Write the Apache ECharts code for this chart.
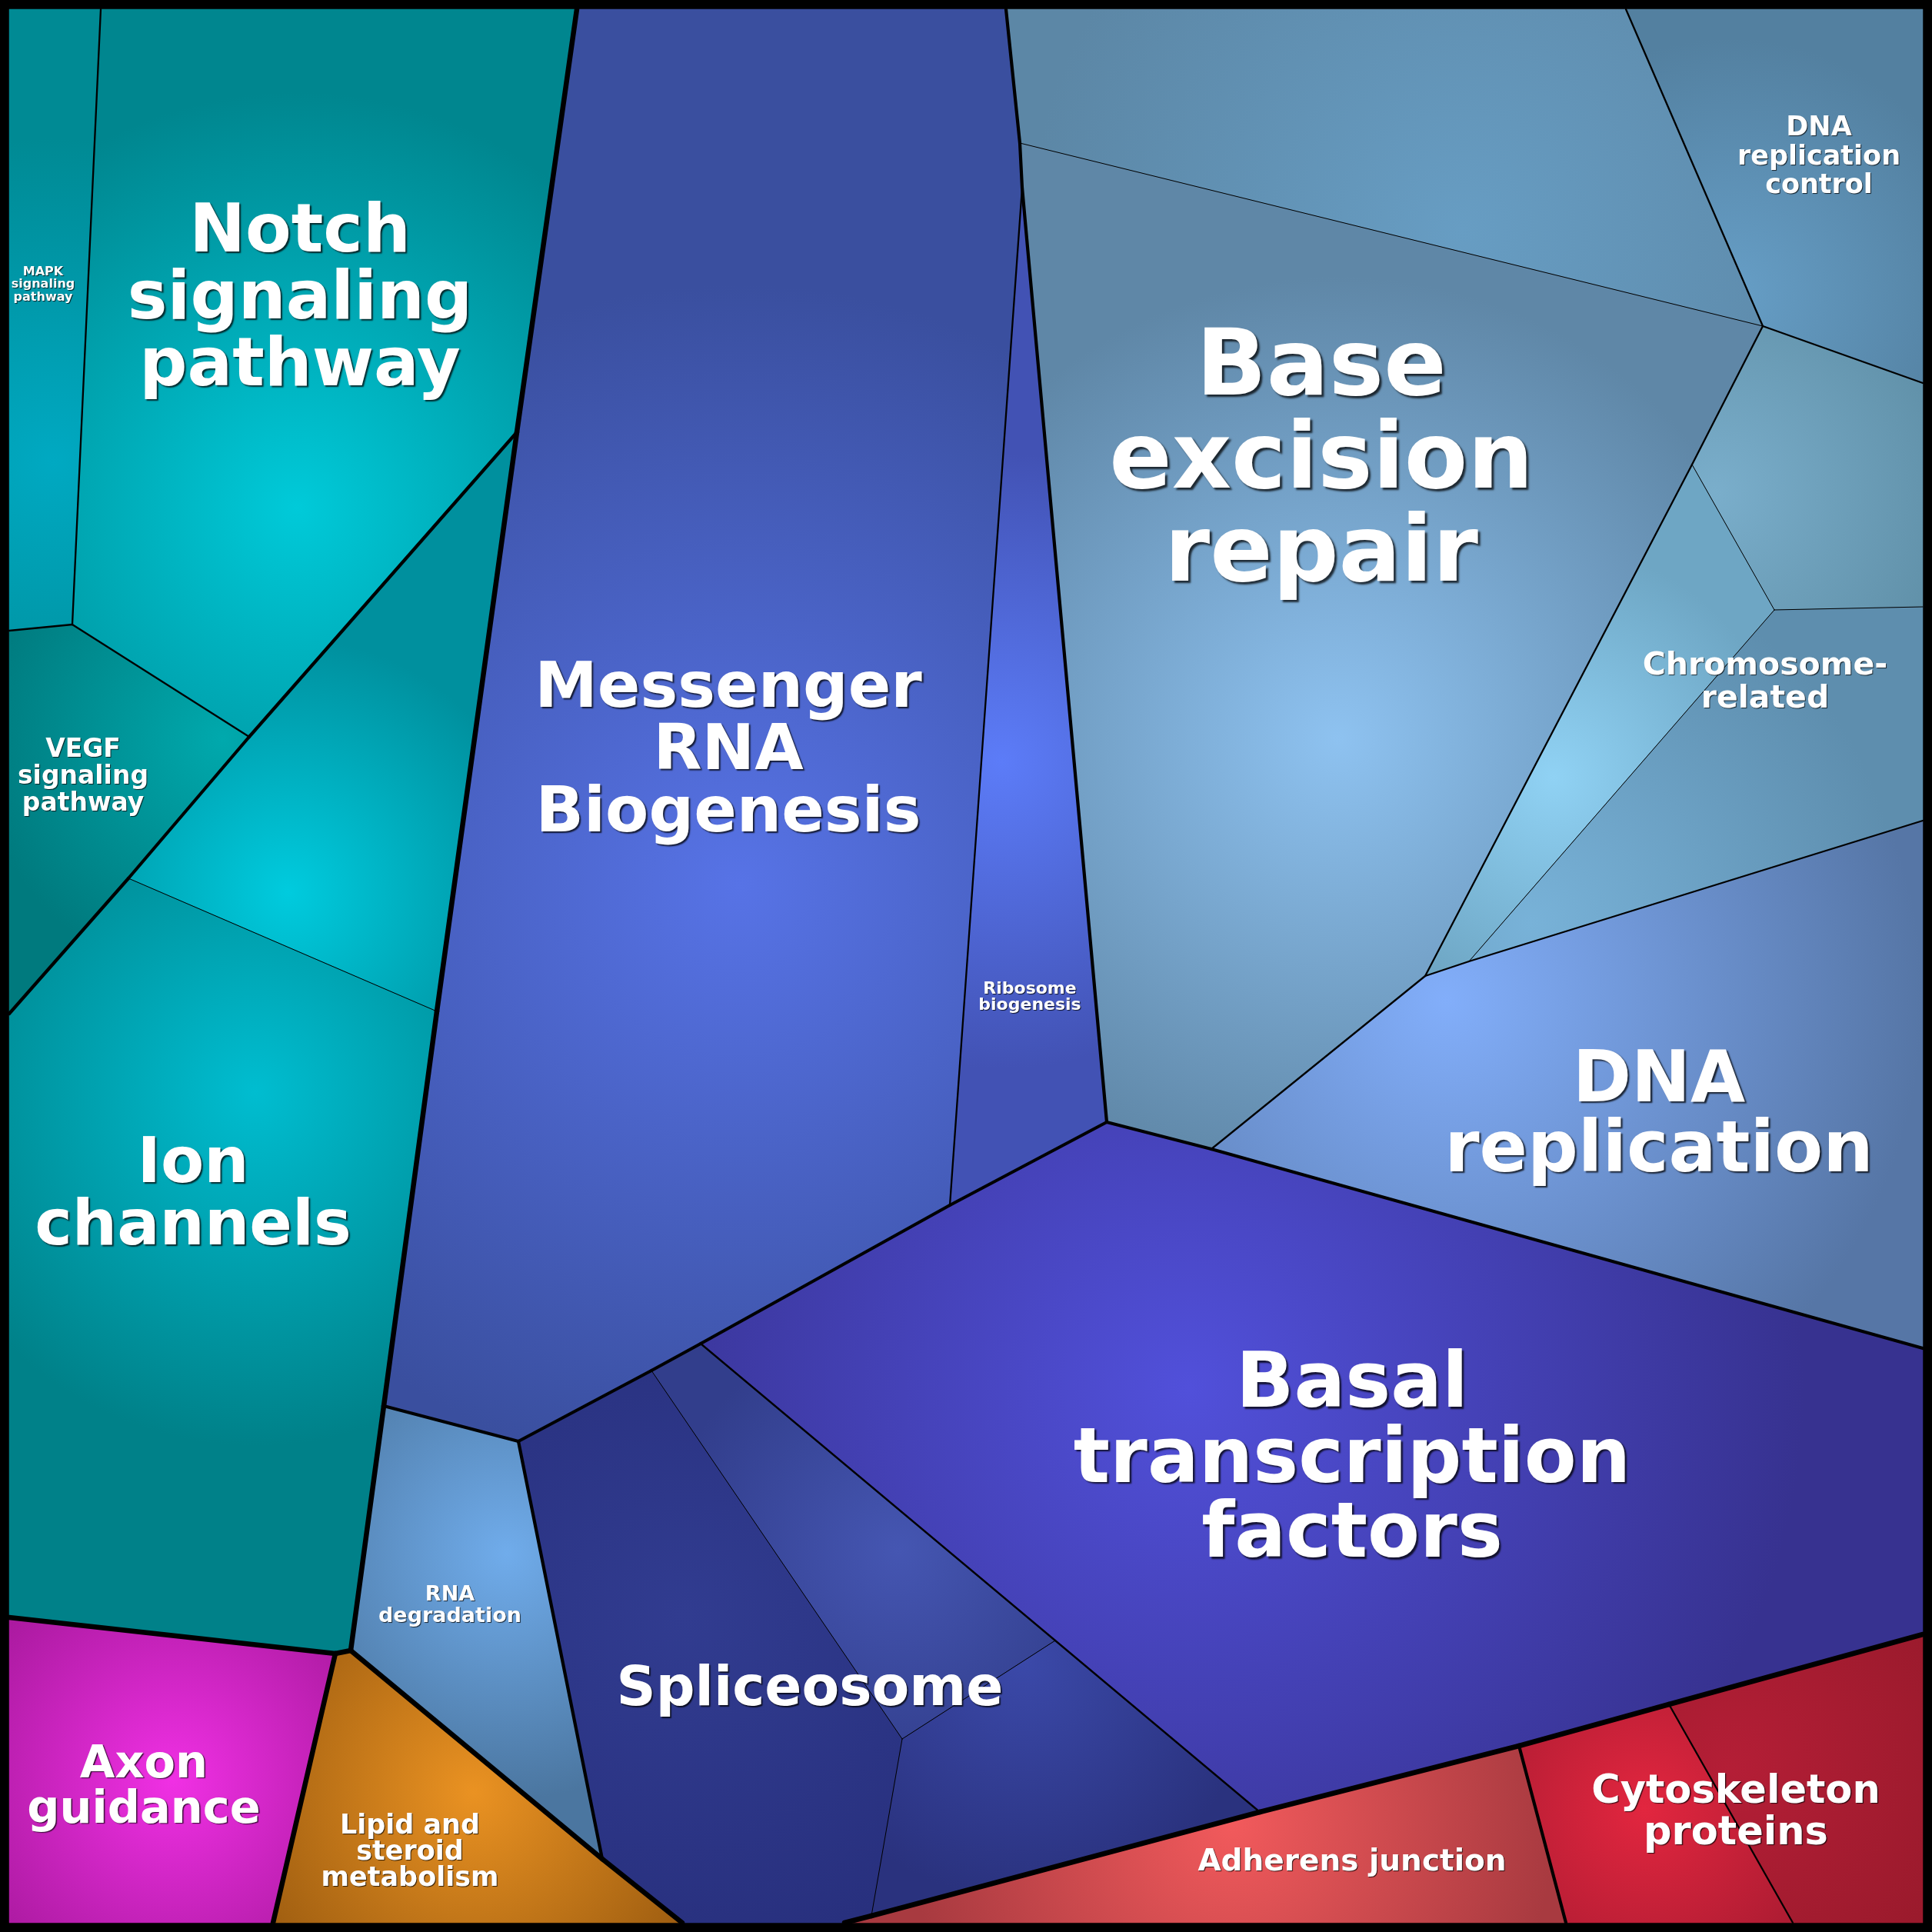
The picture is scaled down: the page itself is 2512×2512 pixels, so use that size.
<!DOCTYPE html>
<html>
<head>
<meta charset="utf-8">
<script src="https://cdn.jsdelivr.net/npm/echarts@6/dist/echarts.min.js"></script>
<style>html,body{margin:0;padding:0;background:#000;}#main{width:2512px;height:2512px;}</style>
</head>
<body>
<div id="main"></div>
<script>
// ---- DATA: Voronoi-treemap vertices (value space 0..2512, y downwards) ----
const vertexIds = ["tl","a1","a2","a3","a4","tr","b1","b2","b3","b4","b5","b6","b7","b8","b9","b10","b11","bl","c1","c2","c3","c4","m1","m2","m3","m4","m5","m6","d1","d2","d3","d4","d5","d6","d7","d8","d9","d10","r1","r2","r3","r4","r5","r6","r7","r8","br","s1","s2"];
const vertexX = [12,131,750,1308,2114,2500,94,12,672,324,167,12,568,499,456,436,12,12,355,783,674,887,1326,1329,1439,1235,911,847,2292,2500,2200,2307,2500,1910,2500,1853,1575,2500,2500,2170,1975,1638,1133,1098,2036,2331,2500,1372,1173];
const vertexY = [12,12,12,12,12,12,812,820,562,958,1142,1318,1315,1828,2146,2150,2103,2500,2500,2417,1874,2500,186,244,1459,1567,1747,1782,424,498,604,793,789,1250,1067,1269,1494,1753,2125,2216,2270,2356,2491,2500,2500,2500,2500,2133,2261];

// cells: id, hierarchy path, polygon (vertex ids)
const cellIds = ["MAPK","Notch","VEGF","IonA","IonB","mRNA","Ribo","DNAtop","BER","DRC","ChromRM","ChromW","ChromLR","DNArep","Basal","SLeft","SMid","SRight","RNAdeg","Lipid","Axon","Adh","CytoL","CytoR"];
const cellPaths = [
  ["T","up","MAPK"],["T","up","Notch"],["T","up","VEGF"],["T","lo","Ion","a"],["T","lo","Ion","b"],
  ["B","m","mRNA"],["B","m","Ribo"],
  ["B","d","BER","top"],["B","d","BER","main"],["B","d","DRC"],
  ["B","d","Chrom","rm"],["B","d","Chrom","w"],["B","d","Chrom","lr"],["B","d","DNArep"],
  ["B","t","Basal"],["B","t","Splice","l"],["B","t","Splice","m"],["B","t","Splice","r"],
  ["B","r","RNAdeg"],["L","Lipid"],["A","Axon"],["R","Adh"],["R","Cyto","l"],["R","Cyto","r"]
];
const cellPolygons = [
  ["tl","a1","b1","b2"],
  ["a1","a2","b3","b4","b1"],
  ["b2","b1","b4","b5","b6"],
  ["b4","b3","b7","b5"],
  ["b5","b7","b8","b9","b10","b11","b6"],
  ["a2","a3","m1","m2","m4","m5","m6","c3","b8","b7","b3"],
  ["m2","m3","m4"],
  ["a3","a4","d1","m1"],
  ["m1","d1","d3","d8","d9","m3","m2"],
  ["a4","tr","d2","d1"],
  ["d1","d2","d5","d4","d3"],
  ["d3","d4","d6","d8"],
  ["d4","d5","d7","d6"],
  ["d8","d6","d7","d10","d9"],
  ["m5","m4","m3","d9","d10","r1","r2","r3","r4","s1"],
  ["c3","m6","s2","r5","r6","c4","c2"],
  ["m6","m5","s1","s2"],
  ["s2","s1","r4","r5"],
  ["b8","c3","c2","b9"],
  ["b10","b9","c2","c4","c1"],
  ["b11","b10","c1","bl"],
  ["r6","r5","r4","r3","r7"],
  ["r3","r2","r8","r7"],
  ["r2","r1","br","r8"]
];

// labels
const labelTexts = ["MAPK\nsignaling\npathway","Notch\nsignaling\npathway","VEGF\nsignaling\npathway","Ion\nchannels","Messenger\nRNA\nBiogenesis","Ribosome\nbiogenesis","Base\nexcision\nrepair","DNA\nreplication\ncontrol","Chromosome-\nrelated","DNA\nreplication","Basal\ntranscription\nfactors","Spliceosome","RNA\ndegradation","Axon\nguidance","Lipid and\nsteroid\nmetabolism","Adherens junction","Cytoskeleton\nproteins"];

// ---- STYLE / LAYOUT (kept apart from the data) ----
const CELL_STYLE = {
  MAPK:{c:[70,600],r:420,hi:'#00a9c2',lo:'#008a94'},
  Notch:{c:[386,660],r:540,hi:'#00cad9',lo:'#00868f'},
  VEGF:{c:[290,960],r:320,hi:'#00a9ad',lo:'#007a7e'},
  IonA:{c:[375,1160],r:330,hi:'#00cbde',lo:'#00909e'},
  IonB:{c:[332,1420],r:460,hi:'#00bdd0',lo:'#008189'},
  mRNA:{c:[960,1150],r:780,hi:'#5773e6',lo:'#3a4f9f'},
  Ribo:{c:[1302,990],r:400,hi:'#5c7cf8',lo:'#4252b4'},
  DNAtop:{c:[1900,300],r:560,hi:'#679dc3',lo:'#5c87a6'},
  BER:{c:[1740,960],r:600,hi:'#8ec2f0',lo:'#5f87a7'},
  DRC:{c:[2250,380],r:330,hi:'#669ec6',lo:'#5380a0'},
  ChromRM:{c:[2230,640],r:320,hi:'#7aaecb',lo:'#6090a8'},
  ChromW:{c:[2020,1010],r:300,hi:'#90d2f4',lo:'#6ea6c4'},
  ChromLR:{c:[1990,1200],r:480,hi:'#78b2d8',lo:'#5e8eae'},
  DNArep:{c:[1880,1300],r:620,hi:'#82aefa',lo:'#5676a6'},
  Basal:{c:[1545,1805],r:800,hi:'#5150da',lo:'#373290'},
  SLeft:{c:[890,2100],r:450,hi:'#313c90',lo:'#28307e'},
  SMid:{c:[1168,2015],r:300,hi:'#4556b2',lo:'#323e8c'},
  SRight:{c:[1330,2160],r:310,hi:'#3b49a9',lo:'#2a327e'},
  RNAdeg:{c:[659,2020],r:320,hi:'#70aceb',lo:'#4b76a0'},
  Lipid:{c:[616,2330],r:330,hi:'#ea9222',lo:'#9c5c10'},
  Axon:{c:[225,2315],r:320,hi:'#f030e4',lo:'#a5189a'},
  Adh:{c:[1602,2371],r:420,hi:'#f25a5c',lo:'#a83a40'},
  CytoL:{c:[2138,2352],r:280,hi:'#e2263f',lo:'#a41a30'},
  CytoR:{c:[2250,2300],r:320,hi:'#b41e36',lo:'#9a1a2c'}
};
const EDGE_WIDTH = [6.5, 4.2, 2.3, 1.0];
const LABEL_LAYOUT = [
  {p:[56,369],fs:16,lh:16.5},
  {p:[390,385],fs:87,lh:87},
  {p:[108,1008],fs:33,lh:35},
  {p:[251,1550],fs:82,lh:81},
  {p:[947,973],fs:82,lh:81},
  {p:[1339,1295],fs:22,lh:21.5},
  {p:[1718,594],fs:120,lh:121},
  {p:[2365,202],fs:35,lh:37.5},
  {p:[2295,885],fs:41,lh:43},
  {p:[2157,1447],fs:92,lh:91},
  {p:[1758,1894],fs:99,lh:97.5},
  {p:[1053,2194],fs:71,lh:71},
  {p:[585,2086],fs:27,lh:28},
  {p:[187,2321],fs:59,lh:59},
  {p:[533,2406],fs:35,lh:34},
  {p:[1758,2419],fs:39,lh:39},
  {p:[2257,2354],fs:51,lh:53.6}
];
const LABEL_DY = 0.07; // baseline correction, fraction of font size

// ---- build ----
const VERT = {};
vertexIds.forEach((id,i)=>{ VERT[id] = [vertexX[i], vertexY[i]]; });

const edgeMap = {};
cellPolygons.forEach((poly,ci)=>{
  for (let k=0;k<poly.length;k++){
    const a = poly[k], b = poly[(k+1)%poly.length];
    const key = a<b ? a+'|'+b : b+'|'+a;
    (edgeMap[key] = edgeMap[key] || {a:a,b:b,cells:[]}).cells.push(ci);
  }
});
const edges = [];
Object.keys(edgeMap).forEach(k=>{
  const e = edgeMap[k];
  if (e.cells.length < 2) return;
  const p1 = cellPaths[e.cells[0]], p2 = cellPaths[e.cells[1]];
  let lvl = 0; while (lvl < p1.length && lvl < p2.length && p1[lvl] === p2[lvl]) lvl++;
  edges.push({a:e.a,b:e.b,lvl:lvl});
});
edges.sort((x,y)=>y.lvl-x.lvl);

const chart = echarts.init(document.getElementById('main'), null, {renderer:'canvas'});
chart.setOption({
  backgroundColor:'#000',
  animation:false,
  grid:{left:0,top:0,right:0,bottom:0},
  xAxis:{type:'value',min:0,max:2512,show:false},
  yAxis:{type:'value',min:0,max:2512,inverse:true,show:false},
  series:[
    {
      type:'custom', coordinateSystem:'cartesian2d', clip:false,
      data: cellIds.map((id,i)=>({name:id,value:[i,0]})),
      renderItem:(params,api)=>{
        const id = cellIds[params.dataIndex];
        const pts = cellPolygons[params.dataIndex].map(v=>api.coord(VERT[v]));
        const st = CELL_STYLE[id];
        const c = api.coord(st.c);
        return {type:'polygon', shape:{points:pts}, style:{
          fill:new echarts.graphic.RadialGradient(c[0],c[1],st.r,[{offset:0,color:st.hi},{offset:1,color:st.lo}],true),
          stroke:st.lo, lineWidth:0.5}};
      }
    },
    {
      type:'custom', coordinateSystem:'cartesian2d', clip:false,
      data: edges.map((e,i)=>({value:[i,0]})),
      renderItem:(params,api)=>{
        const e = edges[params.dataIndex];
        const p = api.coord(VERT[e.a]), q = api.coord(VERT[e.b]);
        return {type:'line', shape:{x1:p[0],y1:p[1],x2:q[0],y2:q[1]},
          style:{stroke:'#000', lineWidth:EDGE_WIDTH[Math.min(e.lvl,3)], lineCap:'round'}};
      }
    },
    {
      type:'custom', coordinateSystem:'cartesian2d', clip:false,
      data: labelTexts.map((t,i)=>({name:t,value:[i,0]})),
      renderItem:(params,api)=>{
        const L = LABEL_LAYOUT[params.dataIndex];
        const p = api.coord(L.p);
        const off = Math.max(1, L.fs/40);
        return {type:'text', x:p[0], y:p[1] + L.fs*LABEL_DY, style:{
          text:labelTexts[params.dataIndex], fill:'#fff',
          fontSize:L.fs, fontWeight:'bold', fontFamily:'DejaVu Sans',
          align:'center', verticalAlign:'middle', textAlign:'center', textVerticalAlign:'middle',
          lineHeight:L.lh,
          textShadowColor:'rgba(0,0,0,0.75)', textShadowOffsetX:off, textShadowOffsetY:off, textShadowBlur:off*0.8
        }};
      }
    }
  ]
});
</script>
</body>
</html>
